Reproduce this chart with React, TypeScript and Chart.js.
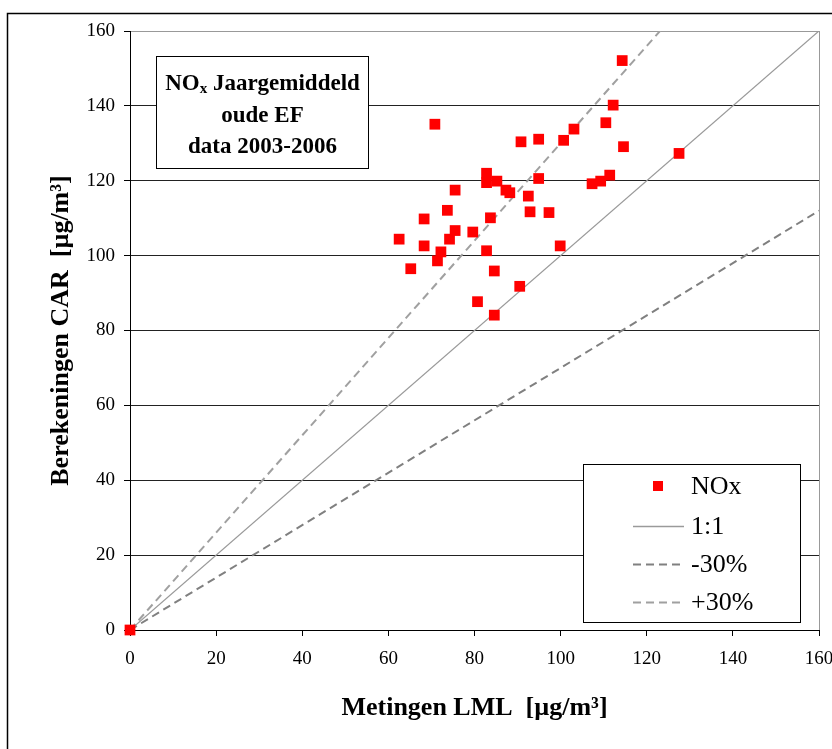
import React, { useEffect, useRef } from "react";
import { Chart, registerables } from "chart.js";

Chart.register(...registerables);

const metingen = [0, 114.3, 112.2, 110.5, 114.6, 103.1, 100.7, 94.9, 90.8, 70.8, 82.8, 82.8, 85.2, 87.3, 88.2, 94.9, 92.5, 92.9, 97.3, 75.5, 73.7, 68.3, 83.7, 75.5, 74.2, 79.6, 62.5, 68.3, 72.2, 71.4, 65.2, 82.8, 84.6, 99.9, 90.5, 80.7, 84.6, 107.3, 109.3, 111.4, 127.5];
const berekeningen = [0, 152.1, 140.2, 135.5, 129.1, 133.8, 130.8, 131.1, 130.4, 135.1, 122.0, 119.5, 119.9, 117.5, 116.8, 120.6, 115.9, 111.7, 111.5, 117.5, 112.1, 109.8, 110.1, 106.7, 104.4, 106.3, 104.4, 102.6, 101.0, 98.6, 96.5, 101.3, 95.9, 102.6, 91.8, 87.7, 84.1, 119.2, 119.9, 121.5, 127.3];

const lineX = [0, 160];
const lineOneToOne = [0, 160];
const lineMinus30 = [0, 112];
const linePlus30 = [0, 208];

const axisTicks = [0, 20, 40, 60, 80, 100, 120, 140, 160];
const seriesLabels = ["NOx", "1:1", "-30%", "+30%"];
const titleLines = ["Jaargemiddeld", "oude EF", "data 2003-2006"];
const xTitle = "Metingen LML  [µg/m³]";
const yTitle = "Berekeningen CAR  [µg/m³]";

const FONT = "'Liberation Serif', 'Times New Roman', serif";

const decorPlugin = {
  id: "decor",
  afterDraw(chart: any) {
    const ctx = chart.ctx as CanvasRenderingContext2D;
    ctx.save();
    // outer frame
    ctx.strokeStyle = "#000";
    ctx.lineWidth = 1.5;
    ctx.beginPath();
    ctx.moveTo(7.5, 760);
    ctx.lineTo(7.5, 13.5);
    ctx.lineTo(840, 13.5);
    ctx.stroke();

    // title box
    ctx.fillStyle = "#fff";
    ctx.fillRect(156, 56, 213, 113);
    ctx.strokeStyle = "#000";
    ctx.lineWidth = 1;
    ctx.strokeRect(156.5, 56.5, 212, 112);
    ctx.fillStyle = "#000";
    ctx.textBaseline = "middle";
    const cx = 262.5;
    const big = `bold 23px ${FONT}`;
    const small = `bold 15px ${FONT}`;
    ctx.font = big;
    const wNO = ctx.measureText("NO").width;
    const wRest = ctx.measureText(" " + titleLines[0]).width;
    ctx.font = small;
    const wX = ctx.measureText("x").width;
    const total = wNO + wX + wRest;
    let x0 = cx - total / 2;
    ctx.textAlign = "left";
    ctx.font = big;
    ctx.fillText("NO", x0, 84);
    ctx.font = small;
    ctx.fillText("x", x0 + wNO, 89);
    ctx.font = big;
    ctx.fillText(" " + titleLines[0], x0 + wNO + wX, 84);
    ctx.textAlign = "center";
    ctx.fillText(titleLines[1], cx, 116);
    ctx.fillText(titleLines[2], cx, 147);

    // legend
    ctx.fillStyle = "#fff";
    ctx.fillRect(583, 464, 218, 159);
    ctx.strokeStyle = "#000";
    ctx.lineWidth = 1;
    ctx.strokeRect(583.5, 464.5, 217, 158);
    const ds = chart.data.datasets;
    const ys = [486, 526, 564, 602];
    ctx.textAlign = "left";
    ctx.font = `26px ${FONT}`;
    for (let i = 0; i < ds.length; i++) {
      const d = ds[i];
      const y = ys[i];
      if (i === 0) {
        ctx.fillStyle = d.backgroundColor;
        ctx.fillRect(653, y - 5, 10, 10);
      } else {
        ctx.strokeStyle = d.borderColor;
        ctx.lineWidth = d.borderWidth;
        ctx.setLineDash(d.borderDash || []);
        ctx.beginPath();
        ctx.moveTo(633, y + 0.5);
        ctx.lineTo(684, y + 0.5);
        ctx.stroke();
        ctx.setLineDash([]);
      }
      ctx.fillStyle = "#000";
      ctx.fillText(d.label, 691, y + 1);
    }
    ctx.restore();
  },
};

export default function App() {
  const ref = useRef<HTMLCanvasElement>(null);
  useEffect(() => {
    document.body.style.margin = "0";
    const toPts = (xs: number[], ys: number[]) => xs.map((x, i) => ({ x, y: ys[i] }));
    const chart = new Chart(ref.current as HTMLCanvasElement, {
      type: "scatter",
      data: {
        datasets: [
          {
            label: seriesLabels[0],
            data: toPts(metingen, berekeningen),
            backgroundColor: "#ff0000",
            borderWidth: 0,
            pointStyle: "rect",
            pointRadius: 7.6,
            clip: false,
          } as any,
          {
            type: "line",
            label: seriesLabels[1],
            data: toPts(lineX, lineOneToOne),
            borderColor: "#9a9a9a",
            borderWidth: 1.3,
            pointRadius: 0,
            fill: false,
          },
          {
            type: "line",
            label: seriesLabels[2],
            data: toPts(lineX, lineMinus30),
            borderColor: "#808080",
            borderWidth: 2,
            borderDash: [8, 5],
            pointRadius: 0,
            fill: false,
          },
          {
            type: "line",
            label: seriesLabels[3],
            data: toPts(lineX, linePlus30),
            borderColor: "#a0a0a0",
            borderWidth: 2,
            borderDash: [8, 5],
            pointRadius: 0,
            fill: false,
          },
        ],
      },
      options: {
        responsive: false,
        animation: false,
        layout: { padding: { left: 0, top: 31, right: 13, bottom: 0 } },
        plugins: { legend: { display: false }, tooltip: { enabled: false } },
        scales: {
          x: {
            type: "linear",
            min: 0,
            max: 160,
            afterBuildTicks: (s: any) => { s.ticks = axisTicks.map((v) => ({ value: v })); },
            afterFit: (s: any) => { s.height = 119; s.paddingRight = 0; s.paddingLeft = 0; },
            ticks: { color: "#000", font: { family: FONT, size: 19 }, padding: 12, maxRotation: 0 },
            grid: {
              drawOnChartArea: true,
              color: (c: any) => (c.tick && c.tick.value === 160 ? "#999" : "rgba(0,0,0,0)"),
              tickColor: "#000",
              tickLength: 6,
              lineWidth: 1,
            },
            border: { display: true, color: "#000", width: 1 },
            title: {
              display: true,
              text: xTitle,
              color: "#000",
              font: { family: FONT, size: 26, weight: "bold" },
              padding: { top: 0, bottom: 25 },
            },
          },
          y: {
            type: "linear",
            min: 0,
            max: 160,
            afterBuildTicks: (s: any) => { s.ticks = axisTicks.map((v) => ({ value: v })); },
            afterFit: (s: any) => { s.width = 130; s.paddingTop = 0; s.paddingBottom = 0; },
            ticks: { color: "#000", font: { family: FONT, size: 19 }, padding: 9 },
            grid: {
              drawOnChartArea: true,
              color: (c: any) => (c.tick && c.tick.value === 160 ? "#999" : c.tick && c.tick.value === 0 ? "rgba(0,0,0,0)" : "#222"),
              tickColor: "#000",
              tickLength: 6,
              lineWidth: 1,
            },
            border: { display: true, color: "#000", width: 1 },
            title: {
              display: true,
              text: yTitle,
              color: "#000",
              font: { family: FONT, size: 26, weight: "bold" },
              padding: { top: 46, bottom: 0 },
            },
          },
        },
      },
      plugins: [decorPlugin],
    });
    return () => chart.destroy();
  }, []);
  return (
    <div style={{ position: "absolute", left: 0, top: 0, width: 832, height: 749, background: "#fff" }}>
      <canvas ref={ref} width={832} height={749} style={{ width: 832, height: 749, display: "block" }} />
    </div>
  );
}
